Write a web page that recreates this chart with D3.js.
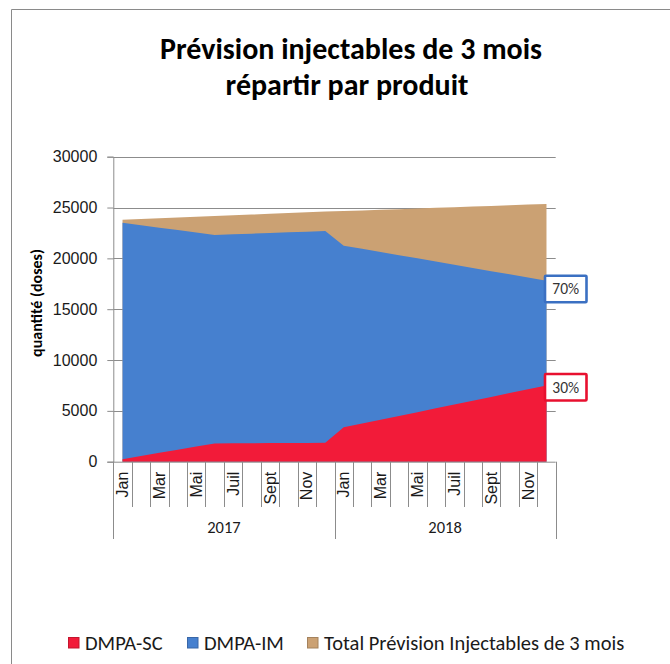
<!DOCTYPE html>
<html>
<head>
<meta charset="utf-8">
<script src="https://cdn.jsdelivr.net/npm/d3@7/dist/d3.min.js"></script>
<style>
  html, body { margin: 0; padding: 0; background: #fff; }
  svg { display: block; font-family: Carlito, Lato, "Open Sans", sans-serif; }
</style>
</head>
<body>
<svg id="chart" width="670" height="664"></svg>
<script>
// ---- data ----
const months = ["Jan","Fév","Mar","Avr","Mai","Juin","Juil","Août","Sept","Oct","Nov","Déc"];
const monthLabels = ["Jan","","Mar","","Mai","","Juil","","Sept","","Nov",""];
const years = ["2017","2018"];
const seriesNames = ["DMPA-SC","DMPA-IM","Total Prévision Injectables de 3 mois"];
const dmpaSC = [250, 560, 870, 1180, 1490, 1800, 1810, 1820, 1830, 1840, 1850, 1870,
                3380, 3750, 4120, 4500, 4870, 5250, 5620, 6000, 6370, 6750, 7120, 7500];
const dmpaIM = [23500, 23260, 23020, 22780, 22540, 22300, 22370, 22430, 22500, 22560, 22630, 22700,
                21250, 20940, 20620, 20310, 20000, 19680, 19370, 19050, 18740, 18430, 18110, 17800];
const totalPrev = [23800, 23870, 23950, 24020, 24090, 24170, 24240, 24310, 24380, 24460, 24530, 24600,
                   24650, 24710, 24780, 24840, 24910, 24970, 25030, 25100, 25160, 25220, 25290, 25350];
const yTicks = [0, 5000, 10000, 15000, 20000, 25000, 30000];
const shareLabels = ["70%", "30%"];

// ---- layout ----
const svg = d3.select("#chart");
const L = 113.3, R = 555.7, T = 156.7, B = 461.7;
const colors = ["#f21b39", "#4680cf", "#cba173"];
const gridCol = "#8c8c8c";
const textCol = "#1a1a1a";

const cats = d3.range(years.length * months.length);
const x = d3.scaleBand().domain(cats).range([L, R]).padding(0);
const cx = i => x(i) + x.bandwidth() / 2;
const y = d3.scaleLinear().domain([0, 30000]).range([B, T]);

// outer frame
svg.append("path").attr("d", `M11.5,664 V9.5 H670`).attr("fill", "none")
  .attr("stroke", "#8a8a8a").attr("stroke-width", 1);

// title
const title = svg.append("text").attr("text-anchor", "middle")
  .attr("font-weight", "bold").attr("font-size", 30).attr("fill", "#000");
title.append("tspan").attr("x", 351).attr("y", 59).text("Prévision injectables de 3 mois");
title.append("tspan").attr("x", 347).attr("y", 95).text("répartir par produit");

// gridlines
svg.append("g").selectAll("line").data(yTicks.filter(d => d > 0)).join("line")
  .attr("x1", L).attr("x2", R).attr("y1", d => Math.round(y(d)) + 0.5).attr("y2", d => Math.round(y(d)) + 0.5)
  .attr("stroke", gridCol).attr("stroke-width", 1);

// areas (overlapping, drawn back to front)
const area = vals => d3.area().x((d, i) => cx(i)).y0(y(0)).y1(d => y(d))(vals);
[[totalPrev, colors[2]], [dmpaIM, colors[1]], [dmpaSC, colors[0]]].forEach(([vals, c]) => {
  svg.append("path").attr("d", area(vals)).attr("fill", c);
});

// y axis
const yAxis = d3.axisLeft(y).tickValues(yTicks).tickSize(6).tickPadding(10).tickFormat(d3.format("d"));
const gy = svg.append("g").attr("transform", `translate(${L},0)`).call(yAxis);
gy.select(".domain").attr("stroke", gridCol);
gy.selectAll(".tick line").attr("stroke", gridCol);
gy.selectAll(".tick text").attr("font-size", 16).attr("fill", textCol).attr("font-family", null);

// x axis (month level)
const xAxis = d3.axisBottom(x).tickSize(0).tickFormat(i => monthLabels[i % 12]);
const gx = svg.append("g").attr("transform", `translate(0,${B})`).call(xAxis);
gx.select(".domain").remove();
gx.selectAll(".tick text")
  .attr("font-size", 16).attr("fill", textCol).attr("font-family", null)
  .attr("transform", "rotate(-90)").attr("text-anchor", "end")
  .attr("x", -10).attr("y", 0).attr("dy", "0.35em");

svg.append("line").attr("x1", L).attr("x2", R).attr("y1", B + 0.5).attr("y2", B + 0.5)
  .attr("stroke", gridCol);
// month separators
svg.append("g").selectAll("line").data(d3.range(cats.length + 1)).join("line")
  .attr("x1", i => Math.round(L + i * x.bandwidth()) + 0.5).attr("x2", i => Math.round(L + i * x.bandwidth()) + 0.5)
  .attr("y1", B).attr("y2", i => (i % 12 === 0) ? 539 : 507)
  .attr("stroke", gridCol).attr("stroke-width", 1);

// year labels
svg.append("g").selectAll("text").data(years).join("text")
  .attr("x", (d, j) => (x(j * 12) + x(j * 12 + 11) + x.bandwidth()) / 2)
  .attr("y", 533).attr("text-anchor", "middle").attr("font-size", 16.5).attr("fill", textCol)
  .text(d => d);

// y title
svg.append("text").attr("transform", "translate(42,303) rotate(-90)")
  .attr("text-anchor", "middle").attr("font-weight", "bold").attr("font-size", 16)
  .attr("fill", "#000").text("quantité (doses)");

// share labels at the end of the series
const last = cats.length - 1;
const ann = [
  { t: shareLabels[0], v: dmpaIM[last], c: "#3b70c2", off: 8 },
  { t: shareLabels[1], v: dmpaSC[last], c: "#e8102f", off: 1.5 }
];
ann.forEach(a => {
  const yc = y(a.v) + a.off;
  svg.append("rect").attr("x", 545).attr("y", yc - 13).attr("width", 41.5).attr("height", 26.5)
    .attr("fill", "#fff").attr("stroke", a.c).attr("stroke-width", 2.6).attr("rx", 1);
  svg.append("text").attr("x", 565.7).attr("y", yc).attr("dy", "0.36em")
    .attr("text-anchor", "middle").attr("font-size", 15.5).attr("fill", "#333").text(a.t);
});

// legend
const legX = [68, 187, 307];
const lg = svg.append("g");
seriesNames.forEach((n, k) => {
  const g = lg.append("g").attr("transform", `translate(${legX[k]},637)`);
  g.append("rect").attr("x", 0.5).attr("y", 0.5).attr("width", 10.5).attr("height", 10.5)
    .attr("fill", colors[k]).attr("stroke", d3.color(colors[k]).darker(0.6)).attr("stroke-width", 1);
  g.append("text").attr("x", 17).attr("y", 6).attr("dy", "0.36em")
    .attr("font-size", 20.5).attr("fill", textCol).text(n);
});
</script>
</body>
</html>
